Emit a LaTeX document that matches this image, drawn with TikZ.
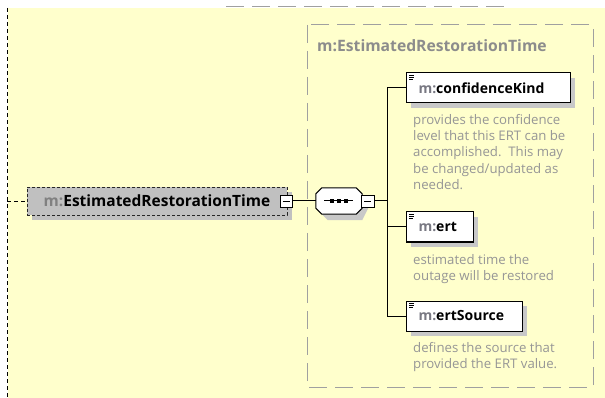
\documentclass[tikz,border=0pt]{standalone}
\usepackage{fontspec}
\setmainfont{Open Sans}
\definecolor{bgyellow}{RGB}{255,255,204}
\definecolor{dashgray}{RGB}{160,160,160}
\definecolor{titlegray}{RGB}{140,140,140}
\definecolor{boxgray}{RGB}{192,192,192}
\definecolor{shadowgray}{RGB}{200,200,200}
\definecolor{descgray}{RGB}{150,150,150}
\definecolor{prefixgray}{RGB}{120,120,130}
\tikzset{
  dashbox/.style={draw=dashgray, line width=1pt, dash pattern=on 18pt off 8pt},
  mainbox/.style={draw=black!85, line width=0.8pt, dash pattern=on 3pt off 2pt, fill=boxgray,
    minimum width=260pt, minimum height=28pt, inner sep=0pt,
    font=\bfseries\fontsize{15.5}{18}\selectfont},
  childbox/.style={draw=black, line width=1pt, fill=white, minimum height=30pt, inner sep=0pt,
    align=left, font=\bfseries\fontsize{14}{17}\selectfont},
  desc/.style={anchor=north west, align=left, inner sep=0pt, text=descgray,
    font=\fontsize{13.2}{16.3}\selectfont},
  minusbox/.style={draw=black, line width=0.8pt, fill=white, minimum width=12pt, minimum height=12pt, inner sep=0pt},
  conn/.style={draw=black, line width=1pt},
}
\newcommand{\mytypeicon}[1]{%
  \draw[line width=0.7pt] ([shift={(3,2.5)}]#1.north west) -- ([shift={(8,2.5)}]#1.north west);
  \draw[line width=0.7pt] ([shift={(3,4.5)}]#1.north west) -- ([shift={(8,4.5)}]#1.north west);
  \draw[line width=0.7pt] ([shift={(3,6.5)}]#1.north west) -- ([shift={(6.5,6.5)}]#1.north west);
}
\begin{document}
\begin{tikzpicture}[x=1pt,y=-1pt]
\useasboundingbox (0,0) rectangle (605,398);
\fill[bgyellow] (8,8) rectangle (605,398);
% outer dashed lines
\draw[black, line width=1pt, dash pattern=on 4pt off 3pt] (7,8) -- (7,398);
\draw[dashbox] (226,7) -- (508,7);
% inner dashed group box
\draw[dashbox] (307,25) rectangle (593,387);
\node[anchor=west, inner sep=0pt, text=titlegray, font=\bfseries\fontsize{15.7}{18}\selectfont] (title) at (317,46) {m:EstimatedRestorationTime};

% main element
\fill[boxgray] (32,192) rectangle (292,220);
\node[mainbox] (main) at (157,201) {\textcolor{gray}{m:}EstimatedRestorationTime};
\node[minusbox] (mainminus) at (286,201) {};
\draw[line width=0.8pt] ([xshift=-3.5pt]mainminus.center) -- ([xshift=3.5pt]mainminus.center);
\coordinate (leftend) at (7,201);
\draw[black, line width=0.8pt, dash pattern=on 4pt off 3pt] (leftend) -- (main.west);

% sequence compositor
\node[minimum width=46pt, minimum height=26pt, inner sep=0pt] (seq) at (339,201) {};
\fill[shadowgray] ([shift={(12,6)}]seq.north west) -- ([shift={(0,6)}]seq.north east) -- ([shift={(6,12)}]seq.north east)
  -- ([shift={(6,-6)}]seq.south east) -- ([shift={(0,6)}]seq.south east) -- ([shift={(12,6)}]seq.south west)
  -- ([shift={(6,0)}]seq.south west) -- ([shift={(6,12)}]seq.north west) -- cycle;
\draw[line width=1pt, fill=white] ([shift={(6,0)}]seq.north west) -- ([shift={(-6,0)}]seq.north east) -- ([shift={(0,6)}]seq.north east)
  -- ([shift={(0,-6)}]seq.south east) -- ([shift={(-6,0)}]seq.south east) -- ([shift={(6,0)}]seq.south west)
  -- ([shift={(0,-6)}]seq.south west) -- ([shift={(0,6)}]seq.north west) -- cycle;
\draw[line width=1pt] ([xshift=-15pt]seq.center) -- ([xshift=14pt]seq.center);
\fill ([shift={(-9,-2)}]seq.center) rectangle ([shift={(-5,2)}]seq.center);
\fill ([shift={(-2,-2)}]seq.center) rectangle ([shift={(2,2)}]seq.center);
\fill ([shift={(5,-2)}]seq.center) rectangle ([shift={(9,2)}]seq.center);
\node[minusbox, minimum width=13pt] (seqminus) at (367.5,201) {};
\draw[line width=0.8pt] ([xshift=-3.5pt]seqminus.center) -- ([xshift=3.5pt]seqminus.center);
\draw[conn] (mainminus.east) -- (seq.west);

% children
\fill[shadowgray] (411,78) rectangle (575,108);
\node[childbox, text width=164pt, anchor=west] (c1) at (406,88) {\hspace*{12pt}\textcolor{prefixgray}{m:}confidenceKind};
\mytypeicon{c1}
\node[desc] (d1) at (413,114) {provides the confidence\\level that this ERT can be\\accomplished.\ \ This may\\be changed/updated as\\needed.};

\fill[shadowgray] (411,217) rectangle (478,247);
\node[childbox, text width=67pt, anchor=west] (c2) at (406,227) {\hspace*{12pt}\textcolor{prefixgray}{m:}ert};
\mytypeicon{c2}
\node[desc] (d2) at (413,254) {estimated time the\\outage will be restored};

\fill[shadowgray] (411,306) rectangle (527,336);
\node[childbox, text width=116pt, anchor=west] (c3) at (406,316) {\hspace*{12pt}\textcolor{prefixgray}{m:}ertSource};
\mytypeicon{c3}
\node[desc] (d3) at (413,342) {defines the source that\\provided the ERT value.};

% connectors
\coordinate (bus) at (387,201);
\draw[conn] (seqminus.east) -- (bus);
\draw[conn] (c1.west) -- (c1.west -| bus) -- (c3.west -| bus) -- (c3.west);
\draw[conn] (c2.west -| bus) -- (c2.west);
\end{tikzpicture}
\end{document}
